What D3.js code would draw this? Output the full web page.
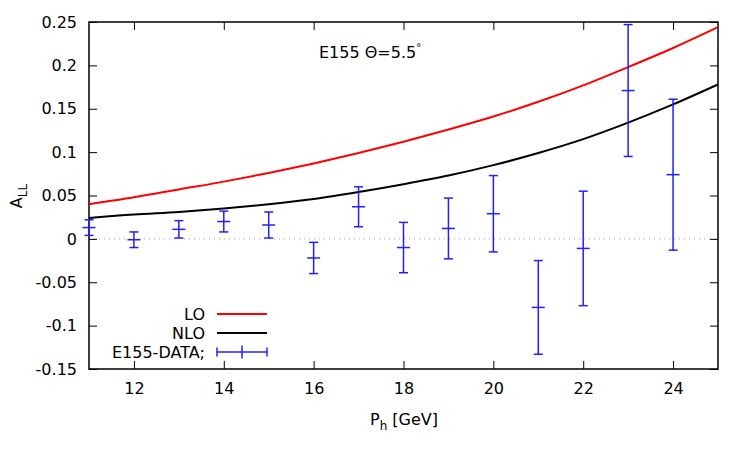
<!DOCTYPE html>
<html>
<head>
<meta charset="utf-8">
<script src="https://cdn.jsdelivr.net/npm/d3@7"></script>
<style>
  body { margin: 0; background: #fff; }
  svg { font-family: "DejaVu Sans", sans-serif; }
</style>
</head>
<body>
<svg></svg>
<script>
const width = 750;
const height = 450;
const margin = {top: 22, right: 32, bottom: 81, left: 89};

// curves
const curveX = [11, 12, 13, 14, 15, 16, 17, 18, 19, 20, 21, 22, 23, 24, 25];
const loValues = [0.040, 0.048, 0.057, 0.066, 0.076, 0.087, 0.099, 0.112, 0.126, 0.141, 0.158, 0.177, 0.198, 0.220, 0.244];
const nloValues = [0.024, 0.028, 0.031, 0.035, 0.040, 0.046, 0.054, 0.063, 0.073, 0.085, 0.099, 0.115, 0.134, 0.155, 0.178];

// E155 data
const dataX = [11, 12, 13, 14, 15, 16, 17, 18, 19, 20, 21, 22, 23, 24];
const dataY = [0.013, -0.001, 0.011, 0.020, 0.016, -0.022, 0.037, -0.010, 0.012, 0.029, -0.079, -0.011, 0.171, 0.074];
const dataErr = [0.009, 0.009, 0.010, 0.012, 0.015, 0.018, 0.023, 0.029, 0.035, 0.044, 0.054, 0.066, 0.076, 0.087];

const xTicks = [12, 14, 16, 18, 20, 22, 24];
const yTicks = [-0.15, -0.1, -0.05, 0, 0.05, 0.1, 0.15, 0.2, 0.25];

const svg = d3.select('svg')
    .attr('width', width)
    .attr('height', height);

const xScale = d3.scaleLinear()
    .domain([11, 25])
    .range([margin.left, width - margin.right]);
const yScale = d3.scaleLinear()
    .domain([-0.15, 0.25])
    .range([height - margin.bottom, margin.top]);

const tickLen = 8;

// zero line
svg.append('line')
    .attr('x1', xScale(11)).attr('x2', xScale(25))
    .attr('y1', yScale(0)).attr('y2', yScale(0))
    .attr('stroke', '#a0a0a0')
    .attr('stroke-width', 1)
    .attr('stroke-dasharray', '1,4');

// axes with inward ticks, mirrored
const xAxisBottom = d3.axisBottom(xScale).tickValues(xTicks).tickSize(-tickLen).tickPadding(14).tickFormat(d3.format('d'));
const xAxisTop = d3.axisTop(xScale).tickValues(xTicks).tickSize(-tickLen).tickFormat('');
const yAxisLeft = d3.axisLeft(yScale).tickValues(yTicks).tickSize(-tickLen).tickPadding(12).tickFormat(d => d === 0 ? '0' : String(+d.toFixed(2)));
const yAxisRight = d3.axisRight(yScale).tickValues(yTicks).tickSize(-tickLen).tickFormat('');

function styleAxis(g) {
  g.select('.domain').remove();
  g.selectAll('.tick line').attr('stroke', '#000').attr('stroke-width', 1);
  g.selectAll('.tick text').attr('fill', '#000').style('font-size', '16px');
}

svg.append('g')
    .attr('transform', `translate(0, ${height - margin.bottom})`)
    .call(xAxisBottom).call(styleAxis)
    .attr('font-family', null);
svg.append('g')
    .attr('transform', `translate(0, ${margin.top})`)
    .call(xAxisTop).call(styleAxis);
svg.append('g')
    .attr('transform', `translate(${margin.left}, 0)`)
    .call(yAxisLeft).call(styleAxis)
    .attr('font-family', null);
svg.append('g')
    .attr('transform', `translate(${width - margin.right}, 0)`)
    .call(yAxisRight).call(styleAxis);

// frame
svg.append('rect')
    .attr('x', xScale(11)).attr('y', yScale(0.25))
    .attr('width', xScale(25) - xScale(11))
    .attr('height', yScale(-0.15) - yScale(0.25))
    .attr('fill', 'none')
    .attr('stroke', '#000')
    .attr('stroke-width', 1.5);

const line = d3.line()
    .x((d, i) => xScale(curveX[i]))
    .y(d => yScale(d))
    .curve(d3.curveMonotoneX);

svg.append('path')
    .attr('d', line(loValues))
    .attr('fill', 'none')
    .attr('stroke', '#ff0000')
    .attr('stroke-width', 2);

svg.append('path')
    .attr('d', line(nloValues))
    .attr('fill', 'none')
    .attr('stroke', '#000')
    .attr('stroke-width', 2);

// error bars
const blue = '#2020ff';
const bars = svg.append('g')
    .attr('stroke', blue)
    .attr('stroke-width', 1.5);

dataX.forEach((x, i) => {
  const cx = xScale(x);
  const yTop = yScale(dataY[i] + dataErr[i]);
  const yBot = yScale(dataY[i] - dataErr[i]);
  const cy = yScale(dataY[i]);
  bars.append('line').attr('x1', cx).attr('x2', cx).attr('y1', yTop).attr('y2', yBot);
  bars.append('line').attr('x1', cx - 4.5).attr('x2', cx + 4.5).attr('y1', yTop).attr('y2', yTop);
  bars.append('line').attr('x1', cx - 4.5).attr('x2', cx + 4.5).attr('y1', yBot).attr('y2', yBot);
  bars.append('line').attr('x1', cx - 6.5).attr('x2', cx + 6.5).attr('y1', cy).attr('y2', cy);
});

// legend
const legend = svg.append('g').style('font-size', '16px');
const legendItems = [
  {label: 'LO', color: '#ff0000', y: 314},
  {label: 'NLO', color: '#000', y: 333},
  {label: 'E155-DATA;', color: blue, y: 352}
];
legendItems.forEach((d, i) => {
  legend.append('text')
      .attr('x', 205).attr('y', d.y)
      .attr('dy', '0.35em')
      .style('text-anchor', 'end')
      .text(d.label);
  legend.append('line')
      .attr('x1', 217).attr('x2', 267)
      .attr('y1', d.y).attr('y2', d.y)
      .attr('stroke', d.color)
      .attr('stroke-width', i < 2 ? 2 : 1.5);
  if (i === 2) {
    [217, 267].forEach(x => legend.append('line')
        .attr('x1', x).attr('x2', x).attr('y1', d.y - 4.5).attr('y2', d.y + 4.5)
        .attr('stroke', blue).attr('stroke-width', 1.5));
    legend.append('line')
        .attr('x1', 242).attr('x2', 242).attr('y1', d.y - 6.5).attr('y2', d.y + 6.5)
        .attr('stroke', blue).attr('stroke-width', 1.5);
  }
});

// annotation
const note = svg.append('text')
    .attr('x', 319).attr('y', 58)
    .style('font-size', '16px')
    .text('E155 Θ=5.5');
note.append('tspan')
    .attr('dy', -7)
    .style('font-size', '10px')
    .text('°');

// axis labels
const xl = svg.append('text')
    .attr('x', 404).attr('y', 425)
    .style('text-anchor', 'middle')
    .style('font-size', '16px')
    .text('P');
xl.append('tspan').attr('dy', 5).style('font-size', '12px').text('h');
xl.append('tspan').attr('dy', -5).text(' [GeV]');

const yl = svg.append('text')
    .attr('transform', 'translate(22, 196) rotate(-90)')
    .style('text-anchor', 'middle')
    .style('font-size', '16px')
    .text('A');
yl.append('tspan').attr('dy', 5).style('font-size', '12px').text('LL');
</script>
</body>
</html>
